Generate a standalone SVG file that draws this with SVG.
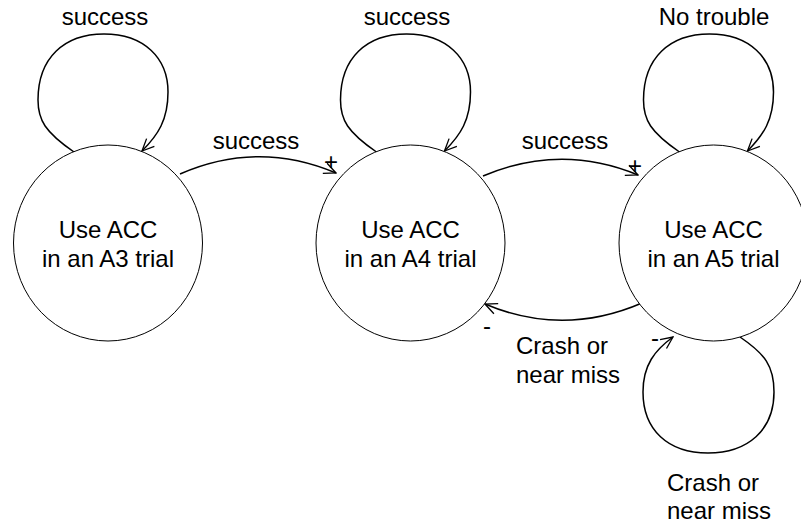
<svg xmlns="http://www.w3.org/2000/svg" width="801" height="530" viewBox="0 0 801 530">
<style>
  text { font-family: "Liberation Sans", Arial, sans-serif; font-size: 24px; fill: #000; }
  .c { text-anchor: middle; }
  .node { fill: #fff; stroke: #000; stroke-width: 1; }
  .edge { fill: none; stroke: #000; stroke-width: 1.5; marker-end: url(#arr); }
</style>
<defs>
  <marker id="arr" viewBox="0 0 14 14" markerWidth="14" markerHeight="14" refX="13" refY="7" orient="auto" markerUnits="userSpaceOnUse">
    <path d="M1,1.5 L13,7 L1,12.5" fill="none" stroke="#000" stroke-width="1.3"/>
  </marker>
</defs>
<rect width="801" height="530" fill="#fff"/>
<g id="connectors">
  <path class="edge" d="M74,152 C45,132 38,120 38,100 C38,58 64,34 104,34 C144,34 168,58 168,92 C168,120 158,135 142,151"/>
  <path class="edge" d="M376.5,152 C347.5,132 340.5,120 340.5,100 C340.5,58 366.5,34 406.5,34 C446.5,34 470.5,58 470.5,92 C470.5,120 460.5,135 444.5,151"/>
  <path class="edge" d="M679.5,152 C650.5,132 643.5,120 643.5,100 C643.5,58 669.5,34 709.5,34 C749.5,34 773.5,58 773.5,92 C773.5,120 763.5,135 747.5,151"/>
  <path class="edge" d="M740,337 C765,354 774,366 774,392 C774,430 748,453 708,453 C668,453 643,430 643,392 C643,365 655,350 673,337"/>
  <path class="edge" d="M180,174 Q258,140 336,173"/>
  <path class="edge" d="M483,176 Q561,143 638,175"/>
  <path class="edge" d="M642,303 Q563,337 485,304"/>
  <text class="c" x="105" y="25">success</text>
  <text class="c" x="407" y="25">success</text>
  <text class="c" x="714" y="25">No trouble</text>
  <text class="c" x="256" y="149">success</text>
  <text class="c" x="565" y="149">success</text>
  <text x="516" y="354">Crash or</text>
  <text x="516" y="383">near miss</text>
  <text x="667" y="491">Crash or</text>
  <text x="667" y="519">near miss</text>
  <text class="c" x="331" y="170">+</text>
  <text class="c" x="635" y="174">+</text>
  <text class="c" x="487" y="334">-</text>
  <text class="c" x="655" y="346">-</text>
</g>
<g id="A3">
  <ellipse class="node" cx="108" cy="243" rx="94.5" ry="98"/>
  <text class="c" x="108" y="238">Use ACC</text>
  <text class="c" x="108" y="267">in an A3 trial</text>
</g>
<g id="A4">
  <ellipse class="node" cx="410.5" cy="243" rx="94.5" ry="98"/>
  <text class="c" x="410.5" y="238">Use ACC</text>
  <text class="c" x="410.5" y="267">in an A4 trial</text>
</g>
<g id="A5">
  <ellipse class="node" cx="713.5" cy="243" rx="94.5" ry="98"/>
  <text class="c" x="713.5" y="238">Use ACC</text>
  <text class="c" x="713.5" y="267">in an A5 trial</text>
</g>
</svg>
